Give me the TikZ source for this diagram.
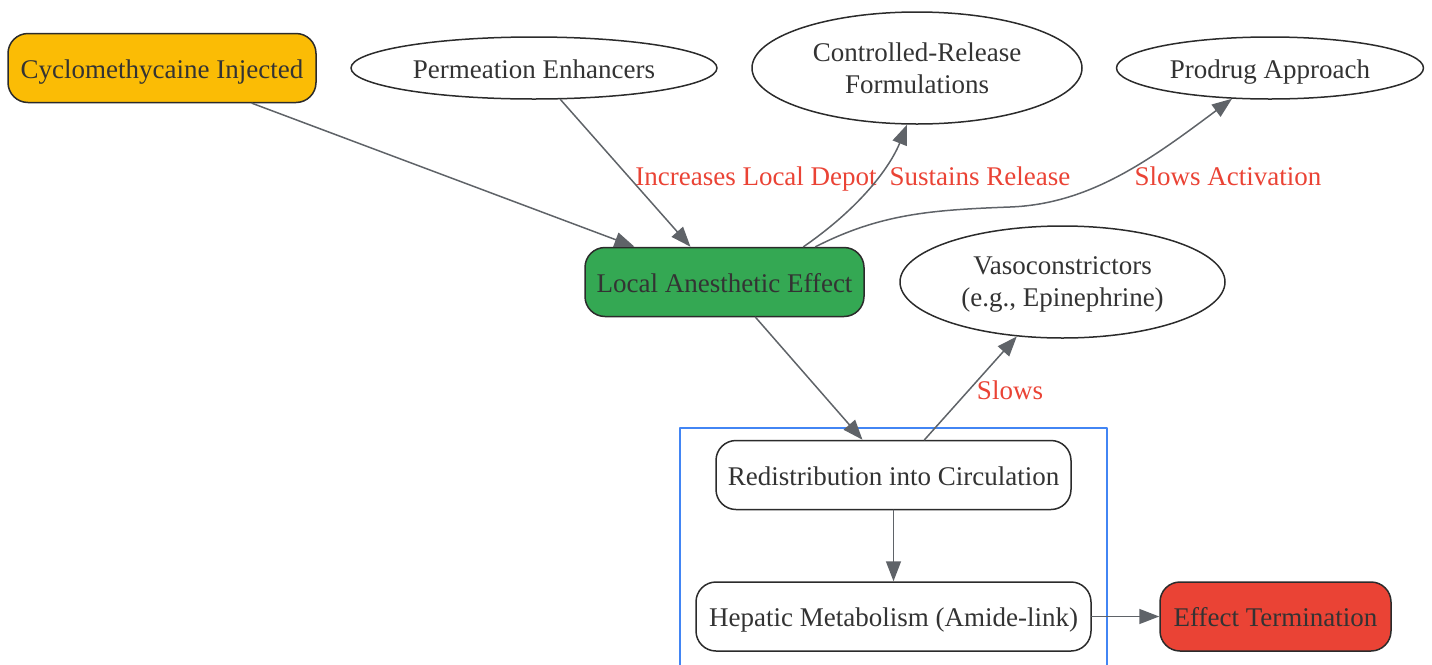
\documentclass[tikz,border=0pt]{standalone}
\usepackage{fontspec}
\setmainfont{Liberation Serif}
\usetikzlibrary{shapes.geometric,arrows.meta}
\definecolor{gyellow}{HTML}{FBBC05}
\definecolor{ggreen}{HTML}{34A853}
\definecolor{gred}{HTML}{EA4335}
\definecolor{gblue}{HTML}{4285F4}
\definecolor{edgegray}{HTML}{5F6368}
\definecolor{nodeline}{HTML}{2B2B2B}
\definecolor{txt}{HTML}{333333}
\begin{document}
\begin{tikzpicture}[x=0.5pt,y=-0.5pt, font=\fontsize{13.5}{16}\selectfont, line join=round, line cap=round,>={Triangle[length=10pt,width=7.5pt]},
oneline/.style={text height=10pt, text depth=0pt},
box/.style={draw=nodeline, line width=0.75pt, rounded corners=10pt, minimum height=34.5pt, inner sep=0pt, text=txt, oneline},
oval/.style={draw=nodeline, ellipse, line width=0.75pt, inner sep=0pt, text=txt, align=center, text depth=-1.5pt},
edge/.style={->, draw=edgegray, line width=0.75pt},
lbl/.style={text=gred, inner sep=0pt, oneline}]
\def \W{1432};
\def \H{665};
\useasboundingbox (0,0) rectangle (\W,\H);
% cluster frame
\draw[gblue, line width=0.6pt] (680,\H) |- (1107,428) -- (1107,\H);
% nodes
\node[box, fill=gyellow, minimum width=154pt] (cyc) at (162,68) {Cyclomethycaine Injected};
\node[oval, oneline, minimum width=183pt, minimum height=31pt] (perm) at (534,68) {Permeation Enhancers};
\node[oval, minimum width=165pt, minimum height=56pt] (crf) at (917,68) {Controlled-Release\\Formulations};
\node[oval, oneline, minimum width=153.5pt, minimum height=31pt] (prod) at (1270,68) {Prodrug Approach};
\node[box, fill=ggreen, minimum width=139.5pt] (lae) at (724.5,282) {Local Anesthetic Effect};
\node[oval, minimum width=162.5pt, minimum height=56pt] (vaso) at (1062.5,282) {Vasoconstrictors\\(e.g., Epinephrine)};
\node[box, fill=white, minimum width=177.5pt] (redis) at (893.5,475) {Redistribution into Circulation};
\node[box, fill=white, minimum width=197.5pt] (hep) at (893.5,616.5) {Hepatic Metabolism (Amide-link)};
\node[box, fill=gred, minimum width=115.5pt] (term) at (1275.5,616.5) {Effect Termination};
% edge labels
\foreach \x/\y/\l/\n in {756/175/Increases Local Depot/lperm, 980/175/Sustains Release/lcrf, 1228/175/Slows Activation/lprod, 1010/389/Slows/lvaso}{\node[lbl] (\n) at (\x,\y) {\l};}
% connectors
\draw[edge] ([xshift=45pt]cyc.south) -- ([xshift=-45pt]lae.north);
\draw[edge] (perm.-50.5) -- ([xshift=-17pt]lae.north);
\draw[edge] ([xshift=39.5pt]lae.north) .. controls (868,202) and (893,160) .. (crf.-100);
\draw[edge] ([xshift=45.5pt]lae.north) .. controls (880,214) and (930,210) .. (1010,207) .. controls (1090,204) and (1150,160) .. (prod.-141);
\draw[edge] ([xshift=15.5pt]lae.south) -- ([xshift=-15.5pt]redis.north);
\draw[edge] ([xshift=15.5pt]redis.north) -- (vaso.230);
\draw[edge] (redis) -- (hep);
\draw[edge] (hep) -- (term);
\end{tikzpicture}
\end{document}
